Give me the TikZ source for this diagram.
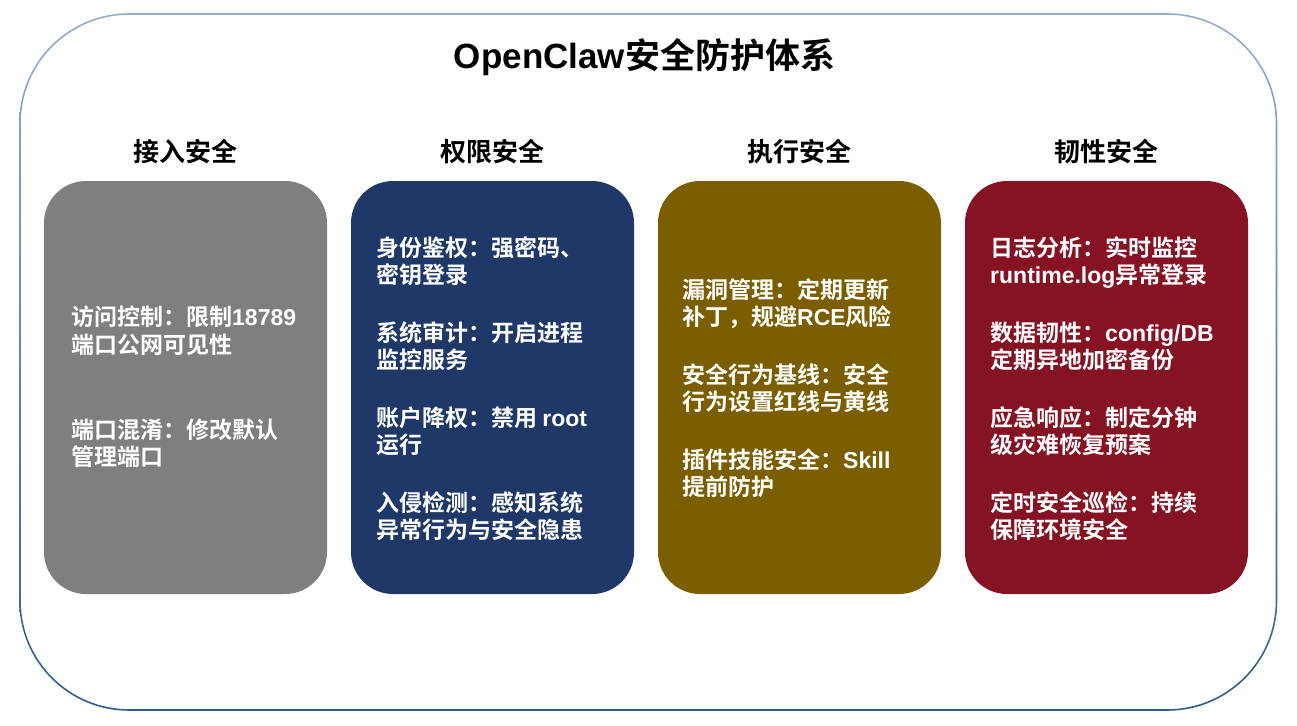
\documentclass[tikz,border=0pt]{standalone}
\usepackage{fontspec}
\setmainfont{Liberation Sans}
\newfontfamily\cjk[BoldFont={Noto Sans CJK SC Bold}]{Noto Sans CJK SC}
\newcommand{\latn}[1]{{\rmfamily\bfseries #1}}
\definecolor{outtop}{HTML}{93AECB}
\definecolor{outbot}{HTML}{2C5C93}
\definecolor{cgray}{HTML}{7F7F7F}
\definecolor{cnavy}{HTML}{1F3867}
\definecolor{colive}{HTML}{7A5E00}
\definecolor{cred}{HTML}{851323}
\begin{document}
\begin{tikzpicture}[x=1pt,y=1pt,
  box/.style={rounded corners=42pt, draw=none, inner sep=0pt, minimum width=283pt, minimum height=413pt},
  txt/.style={anchor=base west, inner sep=0pt, text=white, font=\cjk\bfseries\fontsize{23}{27}\selectfont},
  head/.style={anchor=base, inner sep=0pt, text=black, font=\cjk\bfseries\fontsize{26}{30}\selectfont},
  ttl/.style={anchor=base, inner sep=0pt, text=black, font=\cjk\bfseries\fontsize{35}{40}\selectfont}]
\useasboundingbox (0,0) rectangle (1297,-725);
\fill[white] (0,0) rectangle (1297,-725);
% outer frame with gradient stroke
\shade[top color=outtop, bottom color=outbot, even odd rule]
  [rounded corners=110pt] (19.2,-13.2) rectangle (1277.3,-710.8)
  [rounded corners=108.4pt] (20.8,-14.8) rectangle (1275.7,-709.2);
% title
\node[ttl] (title) at (644.5,-68) {\latn{OpenClaw}安全防护体系};
% headers
\node[head] (h1) at (185.5,-161) {接入安全};
\node[head] (h2) at (492.5,-161) {权限安全};
\node[head] (h3) at (799.5,-161) {执行安全};
\node[head] (h4) at (1106.5,-161) {韧性安全};
% boxes
\node[box, fill=cgray]  (b1) at (185.5,-387.5) {};
\node[box, fill=cnavy]  (b2) at (492.5,-387.5) {};
\node[box, fill=colive] (b3) at (799.5,-387.5) {};
\node[box, fill=cred]   (b4) at (1106.5,-387.5) {};
% gray box text
\node[txt] (g1) at (71,-325.5) {访问控制：限制\latn{18789}};
\node[txt] (g2) at (71,-353.5) {端口公网可见性};
\node[txt] (g3) at (71,-438.5) {端口混淆：修改默认};
\node[txt] (g4) at (71,-465.5) {管理端口};
% navy box text
\node[txt] (n1) at (376,-256.5) {身份鉴权：强密码、};
\node[txt] (n2) at (376,-283.5) {密钥登录};
\node[txt] (n3) at (376,-341.5) {系统审计：开启进程};
\node[txt] (n4) at (376,-368.5) {监控服务};
\node[txt] (n5) at (376,-426.5) {账户降权：禁用 \latn{root}};
\node[txt] (n6) at (376,-453.5) {运行};
\node[txt] (n7) at (376,-511.5) {入侵检测：感知系统};
\node[txt] (n8) at (376,-538.5) {异常行为与安全隐患};
% olive box text
\node[txt] (o1) at (682,-298.5) {漏洞管理：定期更新};
\node[txt] (o2) at (682,-325.5) {补丁，规避\latn{RCE}风险};
\node[txt] (o3) at (682,-383.5) {安全行为基线：安全};
\node[txt] (o4) at (682,-410.5) {行为设置红线与黄线};
\node[txt] (o5) at (682,-468.5) {插件技能安全：\latn{Skill}};
\node[txt] (o6) at (682,-495.5) {提前防护};
% red box text
\node[txt] (r1) at (990,-256.5) {日志分析：实时监控};
\node[txt] (r2) at (990,-283.5) {\latn{runtime.log}异常登录};
\node[txt] (r3) at (990,-341.5) {数据韧性：\latn{config/DB}};
\node[txt] (r4) at (990,-368.5) {定期异地加密备份};
\node[txt] (r5) at (990,-426.5) {应急响应：制定分钟};
\node[txt] (r6) at (990,-453.5) {级灾难恢复预案};
\node[txt] (r7) at (990,-511.5) {定时安全巡检：持续};
\node[txt] (r8) at (990,-538.5) {保障环境安全};
\end{tikzpicture}
\end{document}
